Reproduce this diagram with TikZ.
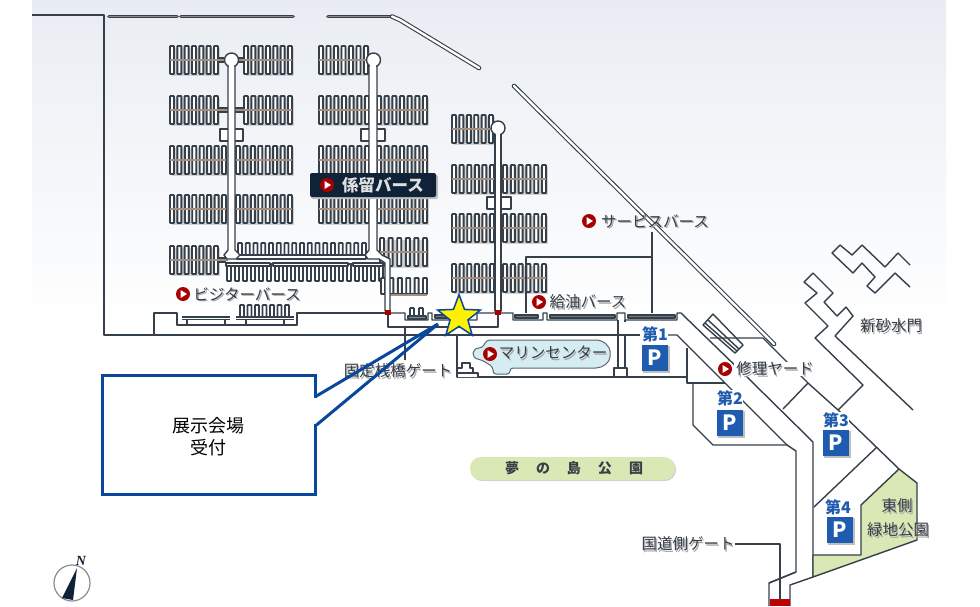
\documentclass[tikz,border=0pt]{standalone}
\usepackage{fontspec}
\setmainfont{Noto Sans CJK JP}
\newfontfamily\serifN{Liberation Serif}
\usetikzlibrary{shapes.geometric}
\definecolor{wallc}{HTML}{36404A}
\definecolor{spinec}{HTML}{A58F80}
\definecolor{parkc}{HTML}{1F5BAE}
\definecolor{callc}{HTML}{0A479C}
\definecolor{greenc}{HTML}{D9E8B4}
\definecolor{marinec}{HTML}{D6ECF3}
\definecolor{txtc}{HTML}{363E48}
\definecolor{navyc}{HTML}{0F2238}
\definecolor{skyc}{HTML}{E9EDF3}
\tikzset{
  wall/.style={draw=wallc,line width=1.4pt,line join=round},
  finger/.style={draw=wallc,line width=1.9pt,fill=white,rounded corners=0.6pt},
  spine/.style={draw=spinec,line width=2.6pt},
  dbl/.style={draw=wallc,line width=4.6pt,line cap=round},
  dblin/.style={draw=white,line width=2.4pt,line cap=round},
  dbltop/.style={draw=wallc,line width=3.8pt,line cap=round},
  dbltopin/.style={draw=black!45,line width=1.2pt,line cap=round},
  lbl/.style={text=txtc,font=\fontsize{15.5}{15.5}\selectfont,inner sep=1pt},
  lblshadow/.style={text=black!35,font=\fontsize{15.5}{15.5}\selectfont,inner sep=1pt},
  psign/.style={fill=parkc,draw=none,text=white,font=\fontsize{21}{21}\selectfont\bfseries,minimum size=26pt,inner sep=0pt},
  pnum/.style={text=parkc,font=\fontsize{16}{16}\selectfont\bfseries,fill=white,inner sep=0.5pt},
  callout/.style={draw=callc,line width=3pt,fill=white},
  callouttext/.style={align=center,text=black,font=\fontsize{18}{22}\selectfont,inner sep=0pt},
  wedge/.style={draw=callc,line width=3pt},
  starmark/.style={star,star points=5,star point ratio=2.4,minimum size=45pt,inner sep=0pt,fill=yellow,draw=callc,line width=1.5pt},
}
% fingers x0 x1 ytop ybot
\newcommand{\fingerrow}[4]{%
  \pgfmathtruncatemacro\fingn{int((#2-#1-4)/8+0.5)}%
  \pgfmathsetmacro\fingstep{(#2-#1-4)/\fingn}%
  \foreach \fk in {0,...,\fingn}{%
    \pgfmathsetmacro\xa{#1+\fk*\fingstep}%
    \path[finger] (\xa,#3) rectangle (\xa+4,#4);
  }%
}
% full pier x0 x1 yc
\newcommand{\pier}[3]{%
  \fill[black!18] (#1+1.5,#3-12.5) rectangle (#2+1.5,#3+15.5);
  \fingerrow{#1}{#2}{#3-14}{#3+14}%
  \draw[spine] (#1,#3) -- (#2,#3);
}
% one sided pier x0 x1 ytop ybot (spine at ybot)
\newcommand{\pierup}[4]{%
  \fingerrow{#1}{#2}{#3}{#4}%
  \draw[wall] (#1,#4) -- (#2,#4);
}
\newcommand{\pierdown}[4]{%
  \fingerrow{#1}{#2}{#3}{#4}%
  \draw[wall] (#1,#3) -- (#2,#3);
}
% labels: name, x, y, text
\newcommand{\maplabel}[4]{%
  \node[lblshadow] at (#2+1.4,#3+1.6) {#4};
  \node[lbl] (#1) at (#2,#3) {#4};
}
\newcommand{\playicon}[3]{%
  \node[circle,fill=red!65!black,minimum size=14pt,inner sep=0pt] (#1) at (#2,#3) {};
  \fill[white] (#2-2.5,#3-4) -- (#2+4,#3) -- (#2-2.5,#3+4) -- cycle;
}
\begin{document}
\begin{tikzpicture}[x=1pt,y=-1pt]
\useasboundingbox (0,0) rectangle (980,606);
\fill[white] (0,0) rectangle (980,606);
\shade[top color=skyc,bottom color=white] (32,0) rectangle (946,330);

% ---- breakwaters
\foreach \a/\b in {109/177,181/293,328/392}{
  \draw[dbltop] (\a,16.5) -- (\b,16.5);
  \draw[dbltopin] (\a,16.5) -- (\b,16.5);
}
\draw[dbl] (392,16.5) -- (400,20) -- (479,68);
\draw[dblin] (392,16.5) -- (400,20) -- (479,68);
\draw[dbl] (514,86) -- (774,344);
\draw[dblin] (514,86) -- (774,344);

% ---- outer frame
\path[wall] (32,15) -- (104,15) -- (104,335) -- (640,335);
\path[wall] (666,335) -- (677,335) -- (787,445) -- (796,451) -- (796,572) -- (769,583) -- (769,606);

% ---- piers column 1
\pier{170}{218}{60}\pier{244}{292}{60}
\pier{170}{218}{110}\pier{244}{292}{110}
\pier{170}{226}{160}\pier{236}{292}{160}
\pier{170}{226}{209}\pier{236}{292}{209}
\pier{170}{218}{260}
\draw[spine] (218,60) -- (226,60) (236,60) -- (244,60) (218,110) -- (228,110) (235,110) -- (244,110) (218,260) -- (228,260);
\draw[wall] (218,58) -- (224,58) (218,62) -- (224,62) (238,58) -- (244,58) (238,62) -- (244,62) (218,108) -- (228,108) (218,112) -- (228,112) (235,108) -- (244,108) (235,112) -- (244,112) (218,258) -- (226,258) (218,262) -- (226,262);
% ---- piers column 2
\pier{319}{368}{60}
\pier{319}{369}{110}\pier{377}{427}{110}
\pier{319}{369}{160}\pier{377}{427}{160}
\pier{319}{369}{209}\pier{377}{427}{209}
\pier{380}{427}{252}
\draw[spine] (366,60) -- (370,60);
% ---- piers column 3
\pier{452}{493}{129}
\pier{452}{494}{179}\pier{503}{546}{179}
\pier{452}{494}{228}\pier{503}{546}{228}
\pier{452}{494}{278}\pier{503}{546}{278}
% ---- cross piers
\pierup{238}{366}{243}{255}
\draw[wall,fill=white] (237,255) rectangle (366,259);
\pierdown{227}{383}{264}{281}
\draw[wall,fill=white] (226,263) rectangle (270,266) (273,263) rectangle (348,266) (353,263) rectangle (383,266);
\pierup{381}{427}{278}{294}
\draw[spine] (385,295) -- (427,295);

% ---- walkways column 1
\draw[wall,fill=white] (220,129) rectangle (243,141);
\draw[wall,fill=white] (228,62) -- (228,250) -- (224,255) -- (227,259) -- (236,259) -- (240,255) -- (235,250) -- (235,62);
\node[circle,wall,fill=white,minimum size=14pt,inner sep=0pt] (c1) at (231.5,60) {};
\fill[white] (229.2,64) rectangle (233.8,70);
% ---- walkways column 2
\draw[wall,fill=white] (361,129) rectangle (385,141);
\draw[wall,fill=white] (369,62) -- (369,250) -- (365,255) -- (368,259) -- (379,259) -- (385,263) -- (385,311) -- (390,311) -- (390,259) -- (382,255) -- (377,250) -- (377,62);
\node[circle,wall,fill=white,minimum size=14pt,inner sep=0pt] (c2) at (373.5,60) {};
\fill[white] (370.2,64) rectangle (375.8,70);
% ---- walkways column 3
\draw[wall,fill=white] (487,197) rectangle (511,209);
\draw[wall,fill=white] (495,130) -- (495,311) -- (501,311) -- (501,130);
\node[circle,wall,fill=white,minimum size=14pt,inner sep=0pt] (c3) at (498,128) {};
\fill[white] (496.4,132) rectangle (499.6,138);

% ---- waterfront strip
\path[wall] (154,335) -- (154,313) -- (177,313) -- (177,325) -- (297,325) -- (297,313) -- (388,313) -- (388,327) -- (498,327) -- (498,313);
\path[wall] (388,313) -- (405,313) -- (405,320) -- (428,320) -- (428,313) -- (432,313) -- (432,320) -- (477,320) -- (477,313) -- (513,313) -- (513,320) -- (543,320) -- (543,313) -- (547,313) -- (547,320) -- (617,320) -- (617,313) -- (625,313) -- (625,320) -- (677,320) -- (677,313) -- (681,313) -- (747,377);
% small piers on strip
\draw[wall] (182,317) -- (230,317) (182,319.5) -- (230,319.5) (187,319) -- (187,325) (225,319) -- (225,325);
\fingerrow{240}{289}{305}{317}
\draw[wall] (236,317) -- (294,317) (236,319.5) -- (294,319.5) (246,319) -- (246,325) (284,319) -- (284,325);
\fingerrow{410}{423}{308}{316}
\draw[wall,fill=wallc!60] (408,316) rectangle (426,319);
\draw[wall,fill=wallc!70] (515,315) rectangle (538,318) (550,315) rectangle (615,318) (628,315) rectangle (675,318) (435,315) rectangle (450,318);
\fill[red!65!black] (385,309.5) rectangle (391,315);
\fill[red!65!black] (495,309.5) rectangle (501,315);
% gate lines
\coordinate (gateA) at (405,327);
\coordinate (gateAend) at (405,360);
\path[wall] (gateA) -- (gateAend);

% ---- service berth
\path[wall] (526,313) -- (526,257) -- (652,257);
\path[wall] (652,232) -- (652,313);
\draw[wall] (618,320) -- (618,335);
\draw[wall] (625,320) -- (625,322);

% ---- marine centre area
\path[wall] (457,335) -- (457,377) -- (687,377);
\draw[wall] (618,335) -- (618,368) (625,335) -- (625,368);
\draw[wall,fill=white] (614,368) rectangle (627,377);
\draw[wall,fill=white] (457,377) -- (457,368) -- (462,368) -- (462,363) -- (470,363) -- (470,368) -- (473,368) -- (473,373) -- (478,373) -- (478,377);
\draw[wall] (457,373) -- (473,373);
\draw[draw=wallc!80,line width=1pt,fill=marinec,rounded corners=3pt]
  (487,340) -- (593,340) .. controls (604,340) and (610,347) .. (610,354) .. controls (610,362) and (603,368) .. (593,368) -- (510,368) -- (510,374) -- (493,374) -- (493,367) -- (482,360) .. controls (470,358) and (472,348) .. (482,348) -- cycle;

% ---- parking lot / road lines
\path[wall] (687,348) -- (687,383) -- (725,383);
\path[wall] (693,383) -- (693,425) -- (713,445) -- (787,445);
\path[wall] (747,377) -- (813,442) -- (813,577);
\path[wall] (796,572) -- (769,583) (813,577) -- (790,585) -- (790,606);

% ---- green park
\path[wall,fill=greenc] (813,555) -- (861,555) -- (861,505) -- (899,469) -- (917,483) -- (917,540) -- (813,577) -- cycle;
\path[wall] (814,507) -- (877,447);
\path[wall] (838,410) -- (899,469);

% ---- yard hatch
\path[wall,fill=white] (703,325) -- (713,314) -- (743,345) -- (735,353) -- cycle;
\path[wall] (708,320) -- (739,349);
\path[wall] (705,323) -- (737,351);
\path[wall] (710,338) -- (763,338) -- (808,383) -- (838,410);
\path[wall] (808,383) -- (783,409);

% ---- sand gate walls
\path[wall] (910,265) -- (898,253) -- (885,267) -- (862,245) -- (852,255) -- (840,245) -- (832,253) -- (853,273) -- (862,263) -- (875,277) -- (867,286) -- (875,293) -- (895,273) -- (910,287);
\path[wall] (913,410) -- (835,336) -- (853,316) -- (846,307) -- (837,316) -- (824,302) -- (833,293) -- (813,273) -- (804,282) -- (817,293) -- (805,303) -- (828,326) -- (815,338) -- (863,385) -- (838,410);

% ---- road gate
\fill[red!75!black] (770,599) rectangle (790,606);
\coordinate (gateB) at (735,544);
\coordinate (gateBc) at (780,544);
\coordinate (gateBend) at (780,600);
\path[wall] (gateB) -- (gateBc) -- (gateBend);

% ---- berth labels
\fill[black!25,rounded corners=2pt] (311,175) rectangle (438,199);
\node[fill=navyc,rounded corners=2pt,minimum width=126pt,minimum height=24pt] (moor) at (373,185) {};
\playicon{i1}{327}{185}
\node[text=black!12,font=\fontsize{16.5}{16.5}\selectfont\bfseries,inner sep=0pt] (moort) at (383,185) {係留バース};
\playicon{i2}{183}{294}
\maplabel{visitor}{247}{294}{ビジターバース}
\playicon{i3}{589}{221}
\maplabel{service}{655}{221}{サービスバース}
\playicon{i4}{539}{302}
\maplabel{fuel}{588}{302}{給油バース}
\playicon{i5}{490}{354}
\maplabel{marine}{553}{353}{マリンセンター}
\playicon{i6}{725}{369}
\node[fill=white,minimum width=82pt,minimum height=14pt,inner sep=0pt] at (775,369) {};
\maplabel{yard}{775}{369}{修理ヤード}
\maplabel{fixedgate}{398}{371}{固定桟橋ゲート}
\maplabel{roadgate}{688}{544}{国道側ゲート}
\maplabel{sandgate}{891}{326}{新砂水門}
\maplabel{eastA}{897}{506}{東側}
\maplabel{eastB}{898}{530}{緑地公園}

% ---- park pill
\fill[black!18,rounded corners=11pt] (471,458) rectangle (676,481);
\fill[greenc,rounded corners=11pt] (470,457) rectangle (675,480);
\node[text=txtc,font=\fontsize{14}{14}\selectfont\bfseries,inner sep=0pt] (dreamt) at (574,468) {夢\hspace{17pt}の\hspace{17pt}島\hspace{17pt}公\hspace{17pt}園};

% ---- parking signs
\foreach \n/\px/\py/\nx/\ny/\t in {p1/655/358/655/334/第1,p2/730/423/730/398/第2,p3/836/443/836/420/第3,p4/840/530/838/507/第4}{
  \fill[black!25] (\px-12,\py-12) rectangle (\px+14.5,\py+14.5);
  \node[psign] (\n) at (\px,\py) {P};
  \node[pnum] (\n t) at (\nx,\ny) {\t};
}

% ---- compass
\node[circle,draw=black!45,line width=1.2pt,minimum size=36pt,inner sep=0pt,fill=white] (compass) at (72,583) {};
\fill[navyc] (77,568) -- (62,598) -- (73,600) -- cycle;
\node[font=\serifN\fontsize{14}{14}\selectfont\bfseries\itshape,text=navyc,inner sep=0pt] (north) at (81,561) {N};

% ---- call-out
\node[callout,minimum width=213pt,minimum height=119pt,inner sep=0pt] (box) at (208.5,434.5) {};
\node[callouttext] (boxt) at (208,437) {展示会場\\受付};
\node[starmark] (mark) at (459,317) {};
\coordinate (tip) at (438,324);
\coordinate (wa) at (box.east |- 0,396);
\coordinate (wb) at (box.east |- 0,425);
\fill[white] (313,397.5) rectangle (317.5,423.5);
\draw[wedge,line join=miter] (wa) -- (tip) -- (wb);
\end{tikzpicture}
\end{document}
